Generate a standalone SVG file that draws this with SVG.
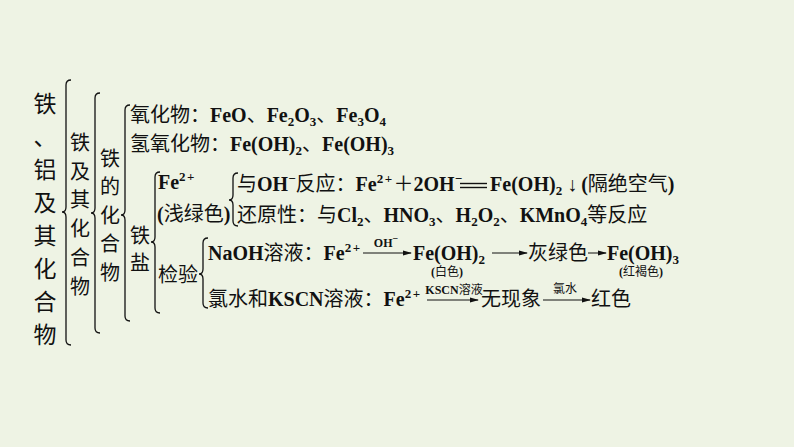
<svg xmlns="http://www.w3.org/2000/svg" width="794" height="447" viewBox="0 0 794 447">
<style>
.t{font-family:"Liberation Serif","Noto Sans CJK SC",serif;font-size:20px;fill:#111}
.b{font-weight:bold}
.s{font-size:13px}
.sp{letter-spacing:1.5px}
.lb{font-family:"Liberation Serif","Noto Sans CJK SC",serif;font-size:12px;fill:#111}
.v{font-family:"Noto Sans CJK SC",sans-serif;text-anchor:middle;fill:#111}
.brace{fill:none;stroke:#111;stroke-width:1.3}
.arr{stroke:#111;stroke-width:1;fill:none;marker-end:url(#ah)}
.eq{stroke:#111;stroke-width:1.4}
</style>
<defs>
<marker id="ah" markerUnits="userSpaceOnUse" markerWidth="9" markerHeight="6" refX="8" refY="3" orient="auto">
<path d="M0,0.5 L9,3 L0,5.5 Z" fill="#111"/>
</marker>
</defs>
<rect width="794" height="447" fill="#eef3e4"/>

<g id="col1">
<text class="v" font-size="23"><tspan x="45" y="112">铁</tspan><tspan x="45" y="145">、</tspan><tspan x="45" y="178">铝</tspan><tspan x="45" y="211">及</tspan><tspan x="45" y="244">其</tspan><tspan x="45" y="277">化</tspan><tspan x="45" y="310">合</tspan><tspan x="45" y="343">物</tspan></text>
</g>
<g id="col2">
<text class="v" font-size="20"><tspan x="80" y="150">铁</tspan><tspan x="80" y="178.7">及</tspan><tspan x="80" y="207.4">其</tspan><tspan x="80" y="236">化</tspan><tspan x="80" y="264.8">合</tspan><tspan x="80" y="293.5">物</tspan></text>
</g>
<g id="col3">
<text class="v" font-size="20"><tspan x="110" y="165.6">铁</tspan><tspan x="110" y="194.1">的</tspan><tspan x="110" y="222.6">化</tspan><tspan x="110" y="251.1">合</tspan><tspan x="110" y="279.6">物</tspan></text>
</g>
<g id="col4">
<text class="v" font-size="20"><tspan x="140" y="242.6">铁</tspan><tspan x="140" y="269.6">盐</tspan></text>
</g>

<g id="braces">
<path class="brace" d="M71,80 Q66,80 66,85 L66,207 Q66,212 62,212 Q66,212 66,217 L66,340 Q66,345 71,345"/>
<path class="brace" d="M100,93 Q95,93 95,98 L95,208 Q95,213 91,213 Q95,213 95,218 L95,328 Q95,333 100,333"/>
<path class="brace" d="M130,105 Q125,105 125,110 L125,210 Q125,215 121,215 Q125,215 125,220 L125,316 Q125,321 130,321"/>
<path class="brace" d="M160,172 Q155,172 155,177 L155,237 Q155,242 151,242 Q155,242 155,247 L155,308 Q155,313 160,313"/>
<path class="brace" d="M238,173 Q233,173 233,178 L233,195 Q233,200 229,200 Q233,200 233,205 L233,221 Q233,226 238,226"/>
<path class="brace" d="M208,238 Q203,238 203,243 L203,269 Q203,274 199,274 Q203,274 203,279 L203,303 Q203,308 208,308"/>
</g>

<g id="oxides">
<text class="t" x="130" y="122">氧化物：<tspan class="b">FeO</tspan>、<tspan class="b">Fe</tspan><tspan class="b s" dy="4">2</tspan><tspan class="b" dy="-4">O</tspan><tspan class="b s" dy="4">3</tspan><tspan dy="-4">、</tspan><tspan class="b">Fe</tspan><tspan class="b s" dy="4">3</tspan><tspan class="b" dy="-4">O</tspan><tspan class="b s" dy="4">4</tspan></text>
</g>
<g id="hydroxides">
<text class="t" x="130" y="151">氢氧化物：<tspan class="b">Fe(OH)</tspan><tspan class="b s" dy="4">2</tspan><tspan dy="-4">、</tspan><tspan class="b">Fe(OH)</tspan><tspan class="b s" dy="4">3</tspan></text>
</g>

<g id="fe2">
<text class="t" x="158" y="189"><tspan class="b">Fe</tspan><tspan class="b s sp" dy="-8">2+</tspan></text>
<text class="t" x="157" y="221"><tspan class="b">(</tspan>浅绿色<tspan class="b">)</tspan></text>
</g>

<g id="reaction">
<text class="t" x="237" y="191">与<tspan class="b">OH</tspan><tspan class="b s" dy="-8">−</tspan><tspan dy="8">反应：</tspan><tspan class="b">Fe</tspan><tspan class="b s sp" dy="-8">2+</tspan><tspan dy="8">＋</tspan><tspan class="b">2OH</tspan><tspan class="b s" dy="-8">−</tspan><tspan dy="8" dx="28" class="b">Fe(OH)</tspan><tspan class="b s" dy="4">2</tspan><tspan dy="-4" dx="5">↓</tspan><tspan class="b" dx="4">(</tspan>隔绝空气<tspan class="b">)</tspan></text>
</g>
<g id="reduction">
<text class="t" x="237" y="222">还原性：与<tspan class="b">Cl</tspan><tspan class="b s" dy="4">2</tspan><tspan dy="-4">、</tspan><tspan class="b">HNO</tspan><tspan class="b s" dy="4">3</tspan><tspan dy="-4">、</tspan><tspan class="b">H</tspan><tspan class="b s" dy="4">2</tspan><tspan class="b" dy="-4">O</tspan><tspan class="b s" dy="4">2</tspan><tspan dy="-4">、</tspan><tspan class="b">KMnO</tspan><tspan class="b s" dy="4">4</tspan><tspan dy="-4">等反应</tspan></text>
</g>

<g id="jianyan">
<text class="t" x="158" y="282">检验</text>
</g>

<g id="naoh">
<text class="t" x="208" y="260"><tspan class="b">NaOH</tspan>溶液：<tspan class="b">Fe</tspan><tspan class="b s sp" dy="-8">2+</tspan></text>
<text class="lb b" x="386" y="247" text-anchor="middle" font-size="13">OH<tspan font-size="10" dy="-5">−</tspan></text>
<text class="t" x="413" y="260"><tspan class="b">Fe(OH)</tspan><tspan class="b s" dy="4">2</tspan></text>
<text class="lb" x="447" y="276" text-anchor="middle" font-size="11"><tspan class="b">(</tspan>白色<tspan class="b">)</tspan></text>
<text class="t" x="528" y="260">灰绿色</text>
<text class="t" x="607" y="260"><tspan class="b">Fe(OH)</tspan><tspan class="b s" dy="4">3</tspan></text>
<text class="lb" x="641" y="276" text-anchor="middle" font-size="11"><tspan class="b">(</tspan>红褐色<tspan class="b">)</tspan></text>
</g>

<g id="kscn">
<text class="t" x="208" y="306">氯水和<tspan class="b">KSCN</tspan>溶液：<tspan class="b">Fe</tspan><tspan class="b s sp" dy="-8">2+</tspan></text>
<text class="lb" x="454" y="294" text-anchor="middle" font-size="11"><tspan class="b">KSCN</tspan>溶液</text>
<text class="t" x="481" y="306">无现象</text>
<text class="lb" x="565" y="293" text-anchor="middle" font-size="12">氯水</text>
<text class="t" x="591" y="306">红色</text>
</g>

<g id="connectors">
<line class="eq" x1="460" y1="183.5" x2="487" y2="183.5"/>
<line class="eq" x1="460" y1="187.5" x2="487" y2="187.5"/>
<line class="arr" x1="363" y1="253" x2="411" y2="253"/>
<line class="arr" x1="492" y1="253" x2="527" y2="253"/>
<line class="arr" x1="588" y1="253" x2="606" y2="253"/>
<line class="arr" x1="427" y1="300" x2="478" y2="300"/>
<line class="arr" x1="543" y1="300" x2="590" y2="300"/>
</g>
</svg>
